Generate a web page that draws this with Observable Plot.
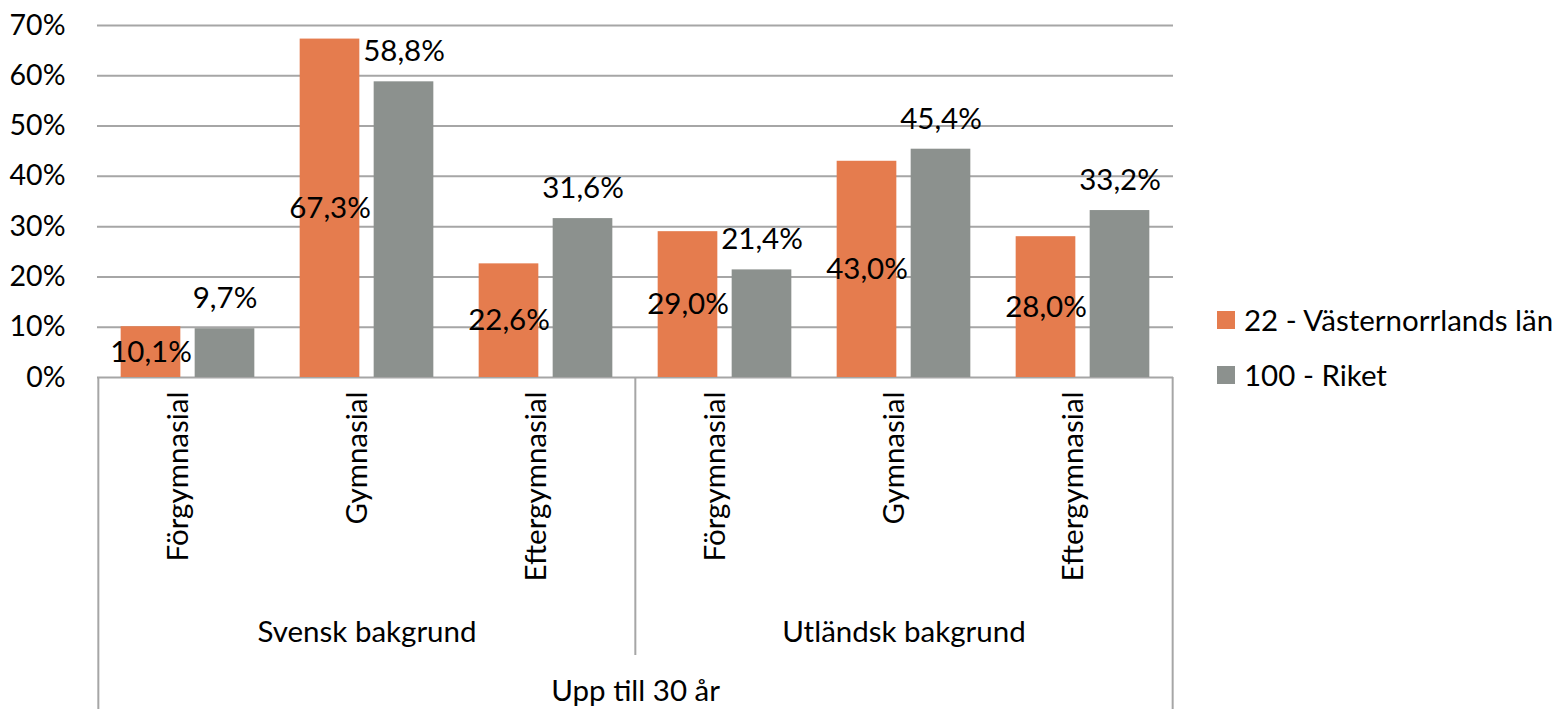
<!DOCTYPE html>
<html>
<head>
<meta charset="utf-8">
<script src="https://cdn.jsdelivr.net/npm/d3@7"></script>
<script src="https://cdn.jsdelivr.net/npm/@observablehq/plot@0.6"></script>
<style>
  html, body { margin: 0; padding: 0; background: #fff; }
  #wrap { position: relative; width: 1558px; height: 709px; overflow: hidden; font-family: Lato, "Open Sans", sans-serif; }
  #legend { position: absolute; left: 1217px; top: 292px; font-size: 29.5px; color: #000; }
  .item { display: flex; align-items: center; height: 55px; }
  .sw { width: 18px; height: 18px; margin-right: 9px; }
</style>
</head>
<body>
<div id="wrap"><div id="chart"></div><div id="legend"></div></div>
<script>
// ---- data ----
const groups = ["Svensk bakgrund", "Svensk bakgrund", "Svensk bakgrund", "Utländsk bakgrund", "Utländsk bakgrund", "Utländsk bakgrund"];
const categories = ["Förgymnasial", "Gymnasial", "Eftergymnasial", "Förgymnasial", "Gymnasial", "Eftergymnasial"];
const superGroups = ["Svensk bakgrund", "Utländsk bakgrund"];
const topLabel = "Upp till 30 år";
const seriesNames = ["22 - Västernorrlands län", "100 - Riket"];
const valuesLan = [10.1, 67.3, 22.6, 29.0, 43.0, 28.0];
const valuesRiket = [9.7, 58.8, 31.6, 21.4, 45.4, 33.2];
const yTicks = [0, 10, 20, 30, 40, 50, 60, 70];
const colors = ["#E57C4E", "#8C918E"];

// ---- build ----
const keys = groups.map((g, i) => g + "|" + categories[i]);
const rowsLan = keys.map((k, i) => ({key: k, category: categories[i], value: valuesLan[i]}));
const rowsRiket = keys.map((k, i) => ({key: k, category: categories[i], value: valuesRiket[i]}));

const locale = d3.formatLocale({decimal: ",", thousands: " ", grouping: [3], currency: ["", " kr"]});
const f1 = locale.format(".1f");
const pct = v => f1(v) + "%";

const W = 1180, H = 709, mL = 97, mR = 7, mT = 25, mB = 332;
const bw = (W - mL - mR) / keys.length;
const bar = 60, gap = 14;
const outer = (bw - 2 * bar - gap) / 2;
const off = bw / 2 - outer - bar / 2;
const lineColor = "#A6A6A6";
const font = "Lato, 'Open Sans', sans-serif";
const fs = 29.5;

const chart = Plot.plot({
  width: W, height: H,
  marginLeft: mL, marginRight: mR, marginTop: mT, marginBottom: mB,
  style: {fontFamily: font, fontSize: fs + "px", color: "#000", background: "white", overflow: "visible"},
  x: {domain: keys, padding: 0, axis: null},
  y: {domain: [0, 70], axis: null},
  marks: [
    Plot.gridY(yTicks, {stroke: lineColor, strokeOpacity: 1, strokeWidth: 2}),
    Plot.axisY(yTicks, {tickSize: 0, tickPadding: 32, tickFormat: d => d + "%", fontSize: 28.5, fill: "#000", label: null}),
    Plot.barY(rowsLan, {x: "key", y: "value", fill: colors[0], insetLeft: outer, insetRight: outer + bar + gap}),
    Plot.barY(rowsRiket, {x: "key", y: "value", fill: colors[1], insetLeft: outer + bar + gap, insetRight: outer}),
    Plot.text(rowsLan, {x: "key", y: d => d.value / 2, text: d => pct(d.value), dx: -off, fontSize: fs, fill: "#000"}),
    Plot.text(rowsRiket, {x: "key", y: "value", text: d => pct(d.value), dx: off, dy: -30, fontSize: fs, fill: "#000"}),
    // category axis
    Plot.text(rowsLan, {x: "key", text: "category", frameAnchor: "bottom", rotate: -90, textAnchor: "end", dy: 14, fontSize: fs, fill: "#000"}),
    Plot.text(superGroups, {x: d => d + "|Gymnasial", text: d => d, frameAnchor: "bottom", dy: 264, fontSize: fs, fill: "#000"}),
    Plot.text([topLabel], {x: () => keys[2], text: d => d, frameAnchor: "bottom", dx: bw / 2, dy: 323, fontSize: fs, fill: "#000"}),
    // separator lines of the category axis
    Plot.ruleX([keys[0]], {x: d => d, dx: -bw / 2, insetTop: H - mT - mB, insetBottom: -mB, stroke: lineColor, strokeWidth: 2}),
    Plot.ruleX([keys[3]], {x: d => d, dx: -bw / 2, insetTop: H - mT - mB, insetBottom: -278, stroke: lineColor, strokeWidth: 2}),
    Plot.ruleX([keys[5]], {x: d => d, dx: bw / 2, insetTop: H - mT - mB, insetBottom: -mB, stroke: lineColor, strokeWidth: 2})
  ]
});
document.getElementById("chart").appendChild(chart);

// legend
const legend = document.getElementById("legend");
seriesNames.forEach((name, i) => {
  const item = document.createElement("div");
  item.className = "item";
  const sw = document.createElement("span");
  sw.className = "sw";
  sw.style.background = colors[i];
  const label = document.createElement("span");
  label.textContent = name;
  item.appendChild(sw);
  item.appendChild(label);
  legend.appendChild(item);
});
</script>
</body>
</html>
